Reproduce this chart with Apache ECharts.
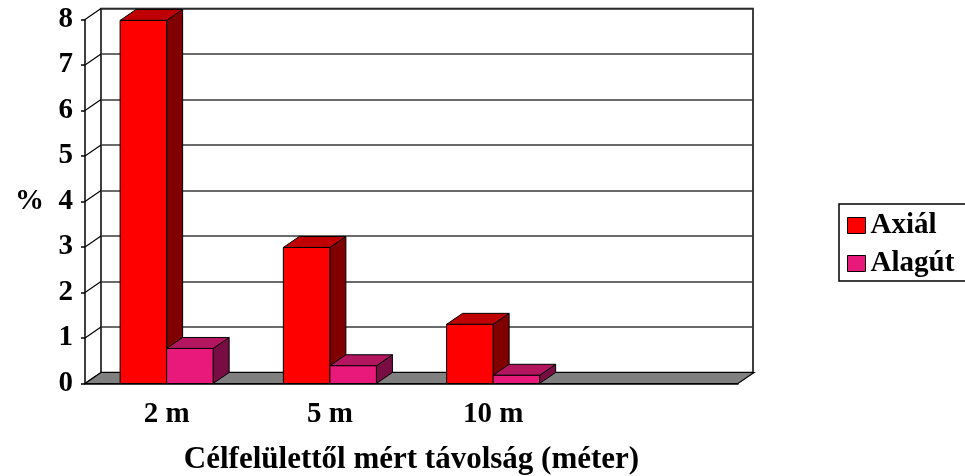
<!DOCTYPE html>
<html>
<head>
<meta charset="utf-8">
<script src="https://cdn.jsdelivr.net/npm/echarts@6/dist/echarts.min.js"></script>
<style>
  html, body { margin: 0; padding: 0; background: #fff; }
  #chart { width: 965px; height: 476px; }
</style>
</head>
<body>
<div id="chart"></div>
<script>
// chart data
var categories = ['2 m', '5 m', '10 m', ''];
var axialValues = [7.98, 2.99, 1.3];
var alagutValues = [0.77, 0.39, 0.18];
var yTicks = [0, 1, 2, 3, 4, 5, 6, 7, 8];

// 3D look
var DX = 16, DY = -11;
var FONT = 'Liberation Serif';

var chart = echarts.init(document.getElementById('chart'));

// one box (front, top, side) per value
function boxRenderer(offsetIdx, colors) {
    return function (params, api) {
        var v = api.value(1);
        if (v == null || isNaN(v)) return;
        var top = api.coord([api.value(0), v]);
        var base = api.coord([api.value(0), 0]);
        var band = api.size([1, 0])[0];
        var w = band * 0.285;
        var x0 = top[0] + (offsetIdx - 1) * w;
        var x1 = x0 + w;
        var yT = top[1], yB = base[1];
        var line = { stroke: '#000', lineWidth: 1 };
        return {
            type: 'group',
            children: [
                {
                    type: 'polygon',
                    shape: { points: [[x1, yB], [x1 + DX, yB + DY], [x1 + DX, yT + DY], [x1, yT]] },
                    style: Object.assign({ fill: colors[2] }, line)
                },
                {
                    type: 'polygon',
                    shape: { points: [[x0, yT], [x1, yT], [x1 + DX, yT + DY], [x0 + DX, yT + DY]] },
                    style: Object.assign({ fill: colors[1] }, line)
                },
                {
                    type: 'rect',
                    shape: { x: x0, y: yT, width: w, height: yB - yT },
                    style: Object.assign({ fill: colors[0] }, line)
                }
            ]
        };
    };
}

var option = {
    animation: false,
    backgroundColor: '#fff',
    textStyle: { fontFamily: FONT },
    legend: {
        orient: 'vertical',
        left: 839,
        top: 204,
        padding: [7, 40, 3, 8],
        borderColor: '#000',
        borderWidth: 1.5,
        itemWidth: 18,
        itemHeight: 16,
        itemGap: 9,
        icon: 'rect',
        itemStyle: { borderColor: '#000', borderWidth: 1 },
        textStyle: { fontFamily: FONT, fontSize: 29, fontWeight: 'bold', color: '#000' },
        data: ['Axiál', 'Alagút']
    },
    grid: [
        { left: 85, top: 19.5, width: 653, height: 364, outerBoundsMode: 'none' },
        { left: 101, top: 8.5, width: 652, height: 364, outerBoundsMode: 'none', show: true, borderColor: '#000', borderWidth: 1.5 }
    ],
    xAxis: [
        {
            gridIndex: 0,
            type: 'category',
            data: categories,
            axisLine: { lineStyle: { color: '#000', width: 1.5 } },
            axisTick: { length: 10, lineStyle: { color: '#000', width: 1.5 } },
            axisLabel: { margin: 17, fontFamily: FONT, fontSize: 29, fontWeight: 'bold', color: '#000' },
            name: 'Célfelülettől mért távolság (méter)',
            nameLocation: 'middle',
            nameGap: 61,
            nameTextStyle: { fontFamily: FONT, fontSize: 31, fontWeight: 'bold', color: '#000' }
        },
        {
            gridIndex: 1,
            type: 'category',
            data: categories,
            show: false
        }
    ],
    yAxis: [
        {
            gridIndex: 0,
            type: 'value',
            min: 0,
            max: 8,
            interval: 1,
            axisLine: { show: true, lineStyle: { color: '#000', width: 1.5 } },
            axisTick: { show: true, length: 4, lineStyle: { color: '#000', width: 1.5 } },
            splitLine: { show: false },
            axisLabel: { margin: 12, fontFamily: FONT, fontSize: 29, fontWeight: 'bold', color: '#000' },
            name: '%',
            nameLocation: 'middle',
            nameRotate: 0,
            nameGap: 41,
            nameTextStyle: { fontFamily: FONT, fontSize: 29, fontWeight: 'bold', color: '#000', padding: [6, 0, 0, 0] }
        },
        {
            gridIndex: 1,
            type: 'value',
            min: 0,
            max: 8,
            interval: 1,
            axisLine: { show: false },
            axisTick: { show: false },
            axisLabel: { show: false },
            splitLine: { show: true, lineStyle: { color: '#3a3a3a', width: 1.5 } }
        }
    ],
    series: [
        {
            // side wall lines
            type: 'custom',
            xAxisIndex: 0,
            yAxisIndex: 0,
            silent: true,
            data: yTicks.map(function (v) { return [0, v]; }),
            renderItem: function (params, api) {
                var p = api.coord([0, api.value(1)]);
                var x = params.coordSys.x;
                return {
                    type: 'line',
                    shape: { x1: x, y1: p[1], x2: x + DX, y2: p[1] + DY },
                    style: { stroke: '#000', lineWidth: 1.2 }
                };
            }
        },
        {
            // floor
            type: 'custom',
            xAxisIndex: 0,
            yAxisIndex: 0,
            silent: true,
            data: [[0, 0]],
            renderItem: function (params, api) {
                var cs = params.coordSys;
                var y = api.coord([0, 0])[1];
                return {
                    type: 'polygon',
                    shape: { points: [[cs.x, y], [cs.x + cs.width, y], [cs.x + cs.width + DX, y + DY], [cs.x + DX, y + DY]] },
                    style: { fill: '#808080', stroke: '#000', lineWidth: 1.2 }
                };
            }
        },
        {
            name: 'Axiál',
            type: 'custom',
            xAxisIndex: 0,
            yAxisIndex: 0,
            itemStyle: { color: '#ff0000' },
            data: axialValues.map(function (v, i) { return [i, v]; }),
            renderItem: boxRenderer(0, ['#ff0000', '#c00000', '#800000'])
        },
        {
            name: 'Alagút',
            type: 'custom',
            xAxisIndex: 0,
            yAxisIndex: 0,
            itemStyle: { color: '#e8197a' },
            data: alagutValues.map(function (v, i) { return [i, v]; }),
            renderItem: boxRenderer(1, ['#e8197a', '#b3155f', '#770d42'])
        }
    ]
};

chart.setOption(option);
</script>
</body>
</html>
